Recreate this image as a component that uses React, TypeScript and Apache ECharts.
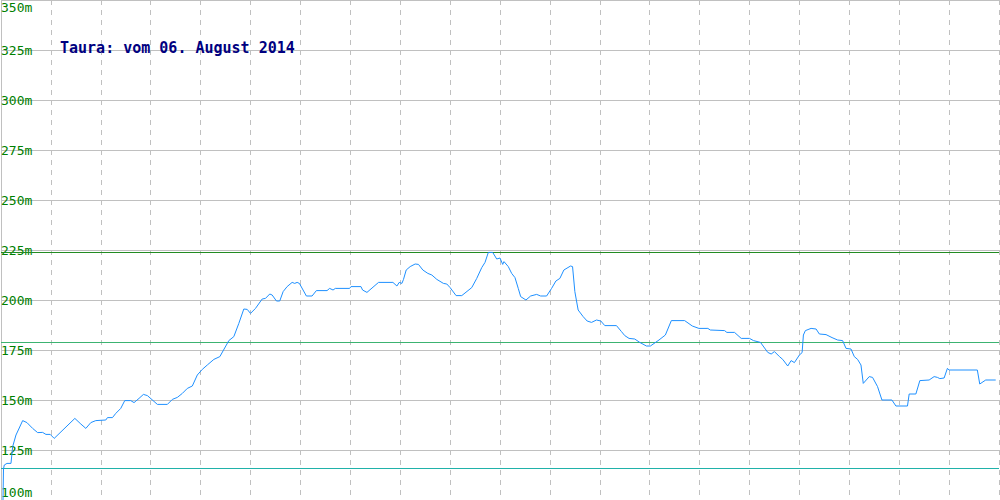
import React, { useEffect, useRef } from "react";
import * as echarts from "echarts";

// distance along the route (chart units) and elevation in metres
const distance: number[] = [
  2, 2.5, 3.3, 6, 10, 11.7, 15, 18.3, 21.7, 26, 31.7, 36.7, 41.7, 45, 49.3, 53.3,
  74, 80, 85, 90, 95, 105, 106.7, 111.7, 115, 120, 124, 130, 133.3, 138.3, 142.7,
  146.7, 156.7, 166.7, 171.7, 176.7, 181.7, 186.7, 191.7, 196.7, 201.7, 206.7,
  213.3, 219.3, 228.3, 233.3, 238.3, 243.3, 246.7, 250, 255, 261.7, 265, 269.3,
  271.7, 276, 279.3, 282.7, 286.7, 291.7, 294.3, 296.7, 299, 306, 311.7, 316,
  326.7, 329.3, 332.7, 335, 349.3, 350.7, 360.7, 362.3, 366.7, 378.3, 392.7,
  396.7, 399, 401.7, 403.3, 406, 410, 415, 418.3, 422.7, 427.7, 431.7, 436.7,
  443.3, 446.7, 450, 456, 461.7, 471.7, 476.7, 481.7, 485, 488.3, 492.7, 496.7,
  500, 502.7, 504, 508.3, 511.7, 515, 518.3, 520.7, 526, 530.7, 536.7, 540.7,
  546.7, 551.7, 556, 560, 564, 570.7, 572.7, 575, 578.3, 583.3, 587.3, 591.7,
  596.7, 601, 605, 616.7, 621.7, 625, 629.3, 635, 640, 646.7, 650.7, 659.3,
  665.7, 671.7, 685, 692.7, 699.3, 708.3, 710.7, 725, 727.3, 735, 741.7, 750,
  754, 761, 768.3, 771.7, 775, 780, 783.3, 788.3, 791.7, 795, 800, 802.7, 804,
  806, 811.7, 816.7, 820, 826.7, 832.7, 838.3, 843.3, 846.7, 851.7, 855, 858.3,
  861.7, 864, 870, 873.3, 878.3, 882.7, 892.7, 896.7, 908.3, 910, 916.7, 920.7,
  930, 935, 938.3, 940.7, 945, 948.3, 950, 978.3, 980.7, 986.7, 996.7,
];

const elevation: number[] = [
  100, 115.5, 117.5, 118.3, 118.3, 126.7, 132.5, 136, 139.7, 138.7, 135.8, 133.7,
  133.8, 132.8, 132.8, 130.8, 140.8, 138, 135.8, 138.7, 139.7, 140, 141.2, 141.2,
  143.3, 145.8, 149.7, 149.7, 148.7, 150.8, 152.8, 152.2, 147.8, 147.8, 150.3,
  151.3, 153.3, 155.8, 157, 162.5, 165.3, 167.5, 170.3, 171.7, 179.7, 181.7,
  188.3, 195.5, 195.3, 193.3, 195.8, 200.5, 200.8, 203, 202.5, 199.5, 199.5,
  204.2, 206.7, 208.8, 208.3, 208.8, 208.3, 202, 202, 204.7, 204.7, 205.8, 205,
  205.8, 205.8, 206.7, 206.7, 205, 203.8, 208.8, 208.8, 207, 208.8, 208.3, 210.3,
  215, 216.7, 218, 217.8, 215, 213.3, 212.5, 210.3, 208.3, 208, 206.2, 202.2,
  202.2, 206.2, 210.8, 216.2, 218.8, 223.8, 223.8, 220.5, 221, 217.8, 219.2,
  216.7, 213.3, 211.2, 205.8, 201.7, 200, 202, 202.8, 202, 202, 205.8, 209.5,
  210.8, 215, 217, 216.7, 204.2, 195, 191.7, 189.5, 188.8, 190, 189.5, 187.2,
  187.2, 184.2, 182.2, 180.8, 180.5, 178.8, 177, 177, 180, 182.5, 189.7, 189.7,
  187, 185.8, 185.8, 185, 184.7, 183.8, 183.8, 180.8, 180.8, 179.7, 178.8, 173.8,
  173, 174.2, 171.7, 170.3, 167, 169.7, 168.7, 172.5, 173.7, 182.5, 184.7, 185.8,
  185.5, 183, 182.7, 181.2, 180, 179.7, 175.8, 175.5, 171.7, 170.3, 167.5, 158.3,
  161.7, 161.3, 156.7, 150, 150, 147, 147, 153, 153, 159.7, 160, 161.7, 161.3,
  160.7, 161, 165.8, 165, 165, 158, 160, 160,
];

const titleText = "Taura: vom 06. August 2014";
const yMin = 100;
const yMax = 350;
const yStep = 25;
const xMin = 0;
const xMax = 1000;
const refLevels: number[] = [223.75, 178.75, 115.75]; // max, average, min
const refColors: string[] = ["#228B22", "#3CB371", "#20B2AA"];

export default function App() {
  const ref = useRef<HTMLDivElement>(null);
  useEffect(() => {
    if (!ref.current) return;
    const chart = echarts.init(ref.current, undefined, { renderer: "svg" });
    const pts = distance.map((d, i) => [d, elevation[i]]);
    const refSeries = refLevels.map((lv, i) => ({
      type: "line",
      data: [
        [xMin, lv],
        [xMax, lv],
      ],
      showSymbol: false,
      symbol: "none",
      silent: true,
      z: 2,
      lineStyle: { color: refColors[i], width: 1, type: "solid" },
    }));
    chart.setOption({
      animation: false,
      backgroundColor: "#ffffff",
      title: {
        text: titleText,
        left: 60,
        top: 40,
        padding: 0,
        textStyle: {
          color: "#000080",
          fontFamily: "DejaVu Sans Mono",
          fontSize: 15,
          fontWeight: "bold",
        },
      },
      grid: {
        left: 1,
        right: 1,
        top: 0,
        bottom: 0,
        containLabel: false,
        outerBoundsMode: "none",
      },
      xAxis: {
        type: "value",
        min: xMin,
        max: xMax,
        interval: 50,
        axisLabel: { show: false },
        axisTick: { show: false },
        axisLine: { show: true, lineStyle: { color: "#c0c0c0", width: 1 } },
        splitLine: {
          show: true,
          lineStyle: { color: "#c0c0c0", type: [5, 5], width: 1 },
        },
      },
      yAxis: {
        type: "value",
        min: yMin,
        max: yMax,
        interval: yStep,
        axisLine: { show: true, lineStyle: { color: "#c0c0c0", width: 1 } },
        axisTick: { show: false },
        splitLine: { show: true, lineStyle: { color: "#c0c0c0", width: 1 } },
        axisLabel: {
          inside: true,
          margin: 0,
          color: "#008000",
          fontFamily: "DejaVu Sans Mono",
          fontSize: 13,
          lineHeight: 15,
          verticalAlign: "middle",
          padding: [0, 0, 2, 0],
          formatter: (v: number) =>
            v === yMax ? "\n" + v + "m" : v === yMin ? v + "m\n" : v + "m",
        },
      },
      series: [
        ...refSeries,
        {
          type: "line",
          data: pts,
          showSymbol: false,
          symbol: "none",
          lineStyle: { color: "#1E90FF", width: 1 },
          z: 3,
        },
      ],
    });
    return () => chart.dispose();
  }, []);
  return (
    <div
      ref={ref}
      style={{
        position: "fixed",
        left: 0,
        top: 0,
        width: 1000,
        height: 500,
        background: "#fff",
      }}
    />
  );
}
